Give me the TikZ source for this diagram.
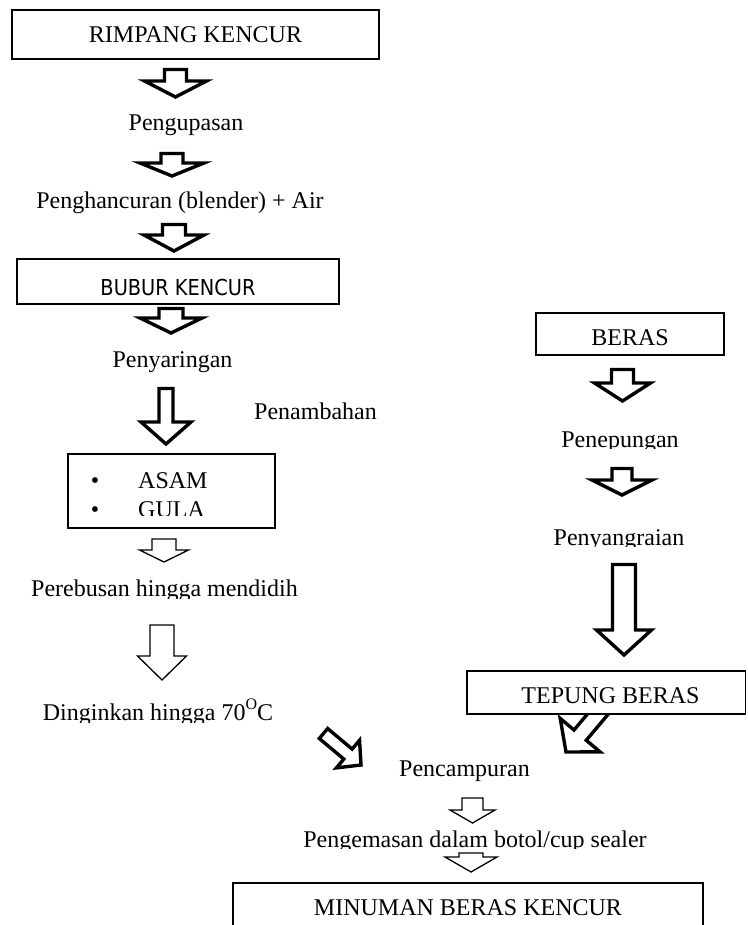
\documentclass[tikz,border=0pt]{standalone}
\usepackage{fontspec}
\setmainfont{Liberation Serif}
\newfontfamily\sansf[FakeStretch=0.88]{DejaVu Sans}
\newcommand{\blockarr}[8]{%
  \begin{scope}[shift={(#1,#2)},rotate=#3]
    \draw[#8] (0,0) -- (-#5,#7) -- (-#5,#6) -- (-#4,#6) -- (-#4,-#6) -- (-#5,-#6) -- (-#5,-#7) -- cycle;
  \end{scope}}
\tikzset{
  lbl/.style={inner sep=0pt, anchor=base, font=\fontsize{24}{28}\selectfont},
  boxst/.style={draw=black, line width=1.8pt, fill=white},
  thickarr/.style={draw=black, fill=white, line width=3.4pt, line join=miter},
  thinarr/.style={draw=black, fill=white, line width=1.3pt, line join=miter}
}
\begin{document}
\begin{tikzpicture}[x=1pt,y=-1pt]
\useasboundingbox (0,0) rectangle (747,925);
\fill[white] (0,0) rectangle (747,925);

% left column
\draw[boxst] (12,10) rectangle (379,59);
\node[lbl] (rimpang) at (195.5,43) {RIMPANG KENCUR};
\blockarr{175.5}{97}{-90}{27.5}{16}{11}{31}{thickarr}
\node[lbl] (kupas) at (186,131) {Pengupasan};
\blockarr{172}{176}{-90}{22.5}{13}{11}{32}{thickarr}
\node[lbl] (hancur) at (180,208) {Penghancuran (blender) + Air};
\blockarr{174}{251}{-90}{26.5}{16}{11.5}{30}{thickarr}
\draw[boxst] (17,259) rectangle (339,304);
\node[lbl, font=\sansf\fontsize{22}{26}\selectfont] (bubur) at (178,295) {BUBUR KENCUR};
\blockarr{171}{333}{-90}{24.5}{15}{12}{31}{thickarr}
\node[lbl] (saring) at (172.5,367) {Penyaringan};
\blockarr{166}{444}{-90}{55.5}{22}{7}{25}{thickarr}
\node[lbl] (tambah) at (315.5,419) {Penambahan};
\draw[boxst] (68,454) rectangle (275,528);
\node[lbl] (b1) at (95,488) {•};
\node[lbl, anchor=base west] (asam) at (138,488) {ASAM};
\begin{scope}
  \clip (70,495) rectangle (273,515);
  \node[lbl] (b2) at (95,517) {•};
  \node[lbl, anchor=base west] (gula) at (138,517) {GULA};
\end{scope}
\blockarr{164}{562}{-90}{23}{12}{12}{24.5}{thinarr}
\begin{scope}
  \clip (20,570) rectangle (320,598);
  \node[lbl] (rebus) at (164.5,596) {Perebusan hingga mendidih};
\end{scope}
\blockarr{162}{680}{-90}{55}{24}{12}{24.5}{thinarr}
\begin{scope}
  \clip (20,690) rectangle (320,722);
  \node[lbl] (dingin) at (158,720) {Dinginkan hingga 70\raisebox{0.42em}{\fontsize{16}{16}\selectfont O}C};
\end{scope}
\blockarr{361}{765}{-40}{49}{17}{6.5}{18}{thickarr}

% right column
\draw[boxst] (536,313) rectangle (724,355);
\node[lbl] (beras) at (630,345) {BERAS};
\blockarr{622.5}{401}{-90}{31.5}{18}{11}{28}{thickarr}
\begin{scope}
  \clip (540,415) rectangle (700,448.5);
  \node[lbl] (tepung) at (620,447) {Penepungan};
\end{scope}
\blockarr{622}{495}{-90}{26.5}{15}{10}{30}{thickarr}
\begin{scope}
  \clip (540,515) rectangle (700,546.5);
  \node[lbl] (sangrai) at (619,545) {Penyangraian};
\end{scope}
\blockarr{624}{655}{-90}{90.5}{25}{11.5}{27.5}{thickarr}
\blockarr{566}{752}{-130}{60}{22}{8}{26}{thickarr}
\draw[boxst] (467,671) rectangle (745.5,714);
\node[lbl] (tberas) at (610.5,703) {TEPUNG BERAS};

% bottom
\node[lbl] (campur) at (464.5,776) {Pencampuran};
\blockarr{472.5}{823}{-90}{25}{13}{10.5}{22.5}{thinarr}
\begin{scope}
  \clip (290,820) rectangle (660,848.5);
  \node[lbl] (kemas) at (475,847) {Pengemasan dalam botol/cup sealer};
\end{scope}
\blockarr{471}{872}{-90}{19}{15}{12}{26}{thinarr}
\draw[line width=1.8pt] (233,926) -- (233,883) -- (703,883) -- (703,926);
\node[lbl] (minum) at (468,915) {MINUMAN BERAS KENCUR};
\end{tikzpicture}
\end{document}
